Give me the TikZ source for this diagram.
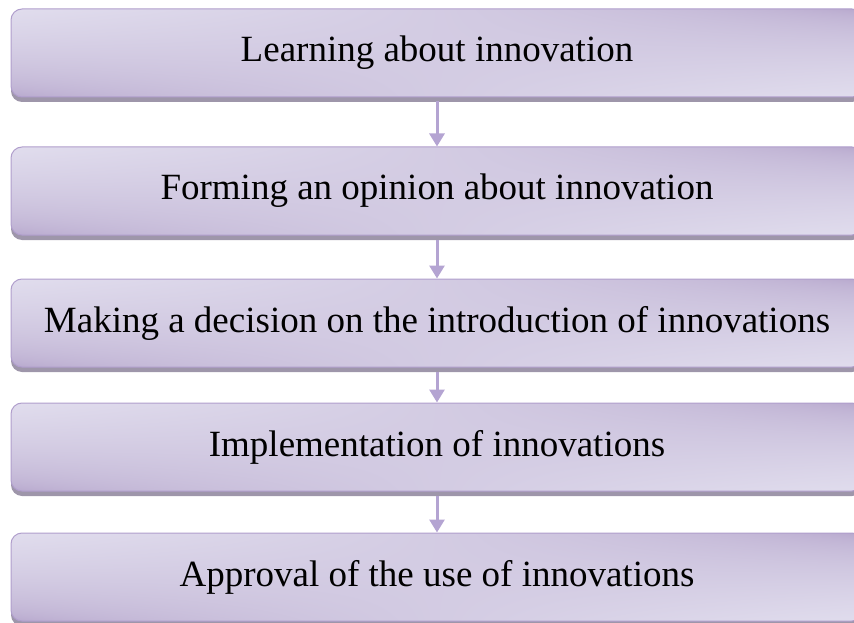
\documentclass[tikz,border=0pt]{standalone}
\usepackage{fontspec}
\setmainfont{Liberation Serif}
\usetikzlibrary{arrows.meta,shadows}
\definecolor{bordc}{RGB}{176,158,204}
\definecolor{shadc}{RGB}{158,150,170}
\definecolor{arrc}{RGB}{180,164,210}
\pgfdeclarefunctionalshading{boxshade}{\pgfpoint{0bp}{0bp}}{\pgfpoint{100bp}{100bp}}{}{
 25 sub 50 div exch 25 sub 50 div exch
 2 copy mul 2 mul neg 3 1 roll add add
 dup 0 lt {pop 0} if dup 1 gt {pop 1} if
 sqrt
 dup 0.18 mul 0.70 add exch dup 0.23 mul 0.635 add exch 0.14 mul 0.79 add
}
\tikzset{
  stepbox/.style={rectangle, rounded corners=11pt, draw=bordc, line width=1pt,
    shading=boxshade, minimum width=852pt, minimum height=88pt, inner sep=0pt,
    general shadow={shadow yshift=-5pt, fill=shadc},
    font=\fontsize{37}{40}\selectfont, text=black},
  flow/.style={draw=arrc, line width=3pt, -{Triangle[width=15pt,length=13pt]}, shorten <=4pt}
}
\begin{document}
\begin{tikzpicture}[x=1pt,y=-1pt]
\useasboundingbox (0,0) rectangle (854,623);
\node[stepbox] (b1) at (437,53)  {Learning about innovation};
\node[stepbox] (b2) at (437,191) {Forming an opinion about innovation};
\node[stepbox] (b3) at (437,323) {Making a decision on the introduction of innovations};
\node[stepbox] (b4) at (437,447) {Implementation of innovations};
\node[stepbox] (b5) at (437,577) {Approval of the use of innovations};
\draw[flow] (b1.south) -- (b2.north);
\draw[flow] (b2.south) -- (b3.north);
\draw[flow] (b3.south) -- (b4.north);
\draw[flow] (b4.south) -- (b5.north);
\end{tikzpicture}
\end{document}
